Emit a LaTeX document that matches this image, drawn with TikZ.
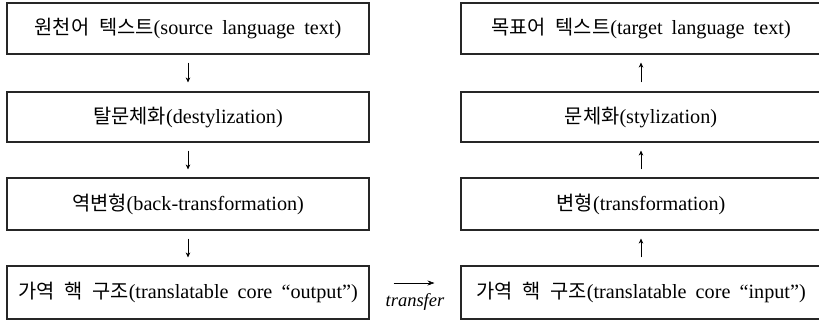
\documentclass[tikz,border=0pt]{standalone}
\usepackage{fontspec}
\setmainfont[WordSpace=1.8]{Liberation Serif}
\newfontfamily\kr[WordSpace=2.2,Scale=0.98]{Noto Sans CJK KR}
\usetikzlibrary{arrows.meta}
\begin{document}
\begin{tikzpicture}[x=1pt,y=-1pt,
  stagebox/.style={draw=black!85, line width=1.1pt, inner sep=0pt,
    font=\fontsize{20.2}{22}\selectfont},
  leftbox/.style={stagebox, minimum width=362pt},
  rightbox/.style={stagebox, minimum width=360pt},
  flowarrow/.style={line width=0.6pt, -{Stealth[length=5pt,width=4.5pt,inset=1.5pt]}},
  transarrow/.style={line width=0.6pt, -{Stealth[length=7pt,width=5pt,inset=2.5pt]}}
]
\useasboundingbox (0,0) rectangle (819,322);
% left column
\node[leftbox, minimum height=51pt] (a1) at (188,28.5) {{\kr 원천어 텍스트}(source language text)};
\node[leftbox, minimum height=50pt] (a2) at (188,117) {{\kr 탈문체화}(destylization)};
\node[leftbox, minimum height=52pt] (a3) at (188,204) {{\kr 역변형}(back-transformation)};
\node[leftbox, minimum height=53pt] (a4) at (188,292.5) {{\kr 가역 핵 구조}(translatable core “output”)};
% right column
\node[rightbox, minimum height=51pt] (b1) at (641,28.5) {{\kr 목표어 텍스트}(target language text)};
\node[rightbox, minimum height=50pt] (b2) at (641,117) {{\kr 문체화}(stylization)};
\node[rightbox, minimum height=52pt] (b3) at (641,204) {{\kr 변형}(transformation)};
\node[rightbox, minimum height=53pt] (b4) at (641,292.5) {{\kr 가역 핵 구조}(translatable core “input”)};
% down arrows
\draw[flowarrow, shorten <=8pt, shorten >=9pt] (a1.south) -- (a2.north);
\draw[flowarrow, shorten <=8pt, shorten >=8pt] (a2.south) -- (a3.north);
\draw[flowarrow, shorten <=8pt, shorten >=8pt] (a3.south) -- (a4.north);
% up arrows
\draw[flowarrow, shorten <=8pt, shorten >=8pt] (b4.north) -- (b3.south);
\draw[flowarrow, shorten <=8pt, shorten >=8pt] (b3.north) -- (b2.south);
\draw[flowarrow, shorten <=9pt, shorten >=8pt] (b2.north) -- (b1.south);
% transfer
\draw[transarrow, shorten <=24pt, shorten >=26pt] ([yshift=9.5pt]a4.east) -- ([yshift=9.5pt]b4.west);
\node[font=\fontsize{18.5}{20}\selectfont\itshape, inner sep=0pt] (tr) at (415,302) {transfer};
\end{tikzpicture}
\end{document}
